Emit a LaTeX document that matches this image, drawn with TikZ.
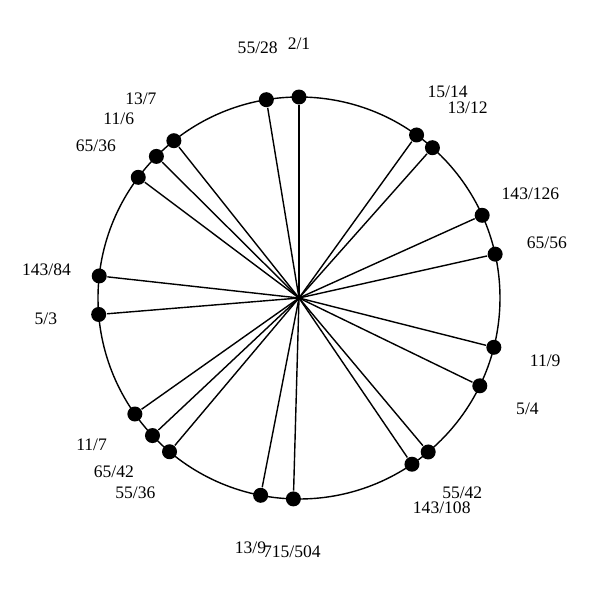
\documentclass[tikz,border=0pt]{standalone}
\usepackage{fontspec}
\setmainfont{Liberation Serif}
\usepackage{tikz}

\begin{document}
\begin{tikzpicture}[line width=0.8pt,
  dot/.style={circle, fill=black, inner sep=0pt, minimum size=0.3cm},
  lbl/.style={font=\fontsize{10pt}{12pt}\selectfont, inner sep=0pt}]
\useasboundingbox (-5.98,-6.04) rectangle (6.02,5.96);
\coordinate (o) at (0,0);
\draw (o) circle (4.02);
% ratio r sits at angle 90-360*log2(r)
\node[dot] (p2-1) at (90:4.02) {};
\node[lbl] (l2-1) at (90:5.08) {2/1};
\draw (o) -- (p2-1);
\node[dot] (p55-28) at (99.35:4.02) {};
\node[lbl] (l55-28) at (99.35:5.08) {55/28};
\draw (o) -- (p55-28);
\node[dot] (p13-7) at (128.5:4.02) {};
\node[lbl] (l13-7) at (128.5:5.08) {13/7};
\draw (o) -- (p13-7);
\node[dot] (p11-6) at (135.2:4.02) {};
\node[lbl] (l11-6) at (135.2:5.08) {11/6};
\draw (o) -- (p11-6);
\node[dot] (p65-36) at (143.1:4.02) {};
\node[lbl] (l65-36) at (143.1:5.08) {65/36};
\draw (o) -- (p65-36);
\node[dot] (p143-84) at (173.7:4.02) {};
\node[lbl] (l143-84) at (173.7:5.08) {143/84};
\draw (o) -- (p143-84);
\node[dot] (p5-3) at (184.7:4.02) {};
\node[lbl] (l5-3) at (184.7:5.08) {5/3};
\draw (o) -- (p5-3);
\node[dot] (p11-7) at (215.25:4.02) {};
\node[lbl] (l11-7) at (215.25:5.08) {11/7};
\draw (o) -- (p11-7);
\node[dot] (p65-42) at (223.2:4.02) {};
\node[lbl] (l65-42) at (223.2:5.08) {65/42};
\draw (o) -- (p65-42);
\node[dot] (p55-36) at (229.9:4.02) {};
\node[lbl] (l55-36) at (229.9:5.08) {55/36};
\draw (o) -- (p55-36);
\node[dot] (p13-9) at (259.0:4.02) {};
\node[lbl] (l13-9) at (259.0:5.08) {13/9};
\draw (o) -- (p13-9);
\node[dot] (p715-504) at (268.4:4.02) {};
\node[lbl] (l715-504) at (268.4:5.08) {715/504};
\draw (o) -- (p715-504);
\node[dot] (p55-42) at (310.0:4.02) {};
\node[lbl] (l55-42) at (310.0:5.08) {55/42};
\draw (o) -- (p55-42);
\node[dot] (p143-108) at (304.2:4.02) {};
\node[lbl] (l143-108) at (304.2:5.08) {143/108};
\draw (o) -- (p143-108);
\node[dot] (p5-4) at (334.1:4.02) {};
\node[lbl] (l5-4) at (334.1:5.08) {5/4};
\draw (o) -- (p5-4);
\node[dot] (p11-9) at (345.8:4.02) {};
\node[lbl] (l11-9) at (345.8:5.08) {11/9};
\draw (o) -- (p11-9);
\node[dot] (p65-56) at (12.6:4.02) {};
\node[lbl] (l65-56) at (12.6:5.08) {65/56};
\draw (o) -- (p65-56);
\node[dot] (p143-126) at (24.3:4.02) {};
\node[lbl] (l143-126) at (24.3:5.08) {143/126};
\draw (o) -- (p143-126);
\node[dot] (p13-12) at (48.4:4.02) {};
\node[lbl] (l13-12) at (48.4:5.08) {13/12};
\draw (o) -- (p13-12);
\node[dot] (p15-14) at (54.2:4.02) {};
\node[lbl] (l15-14) at (54.2:5.08) {15/14};
\draw (o) -- (p15-14);
\end{tikzpicture}
\end{document}
